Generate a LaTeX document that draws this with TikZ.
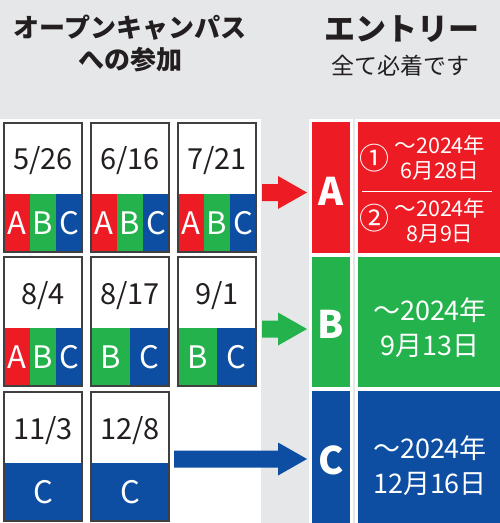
\documentclass[tikz,border=0pt]{standalone}
\usepackage{fontspec}
\setmainfont{Noto Sans CJK JP}
\usetikzlibrary{calc}
\definecolor{cred}{HTML}{ED1C24}
\definecolor{cgreen}{HTML}{23B24B}
\definecolor{cblue}{HTML}{0D4EA2}
\definecolor{cbg}{HTML}{E6E7E9}
\definecolor{ctext}{HTML}{231F20}
\definecolor{cborder}{HTML}{404040}
\newcommand\blkarrow[3]{% color, start coord, tip coord
  \fill[#1] ($(#2)+(0,-8.5)$) -- ($(#3)+(-29,-8.5)$) -- ($(#3)+(-29,-16.5)$) -- (#3)
    -- ($(#3)+(-29,16.5)$) -- ($(#3)+(-29,8.5)$) -- ($(#2)+(0,8.5)$) -- cycle;}
\begin{document}
\begin{tikzpicture}[x=1pt,y=-1pt,
  card/.style={fill=white, minimum width=78pt, minimum height=129pt, inner sep=0pt, outer sep=0pt, anchor=north west},
  cardline/.style={draw=cborder, line width=1.2pt},
  datetext/.style={text=ctext, font=\fontsize{29}{31}\selectfont, inner sep=0pt},
  bandtext/.style={text=white, font=\fontsize{31}{33}\selectfont, inner sep=0pt},
  lbox/.style={draw=white, line width=3pt, minimum width=41pt, inner sep=0pt},
  dbox/.style={draw=white, line width=3pt, minimum width=148pt, inner sep=0pt},
  bigletter/.style={text=white, font=\fontsize{38}{40}\selectfont\bfseries, inner sep=0pt},
  smalldet/.style={text=white, font=\fontsize{21.5}{25}\selectfont, align=center, inner sep=0pt},
  bigdet/.style={text=white, font=\fontsize{27}{35}\selectfont, align=center, inner sep=0pt},
  circnum/.style={text=white, font=\fontsize{30}{32}\selectfont, inner sep=0pt},
  head/.style={text=ctext, font=\fontsize{26}{28}\selectfont\bfseries, inner sep=0pt},
]
\useasboundingbox (0,0) rectangle (500,523);
\fill[cbg] (0,0) rectangle (500,523);
\fill[white] (0,119) rectangle (261,523);

% headers
\node[head] (h1) at (130,28) {オープンキャンパス};
\node[head] (h2) at (130,60) {への参加};
\node[head, font=\fontsize{31}{33}\selectfont\bfseries] (h3) at (402,29) {エントリー};
\node[text=ctext, font=\fontsize{23}{25}\selectfont, inner sep=0pt] (h4) at (400,66) {全て必着です};

% cards
\node[card] (d1) at (4,123) {};
\node[card] (d2) at (91,123) {};
\node[card] (d3) at (178,123) {};
\node[card] (d4) at (4,257) {};
\node[card] (d5) at (91,257) {};
\node[card] (d6) at (178,257) {};
\node[card] (d7) at (4,392) {};
\node[card] (d8) at (91,392) {};

\foreach \c in {d1,d2,d3,d4}{
  \fill[cred] (\c.south west) rectangle ++(26,-58.5);
  \fill[cgreen] ($(\c.south west)+(26,0)$) rectangle ++(26,-58.5);
  \fill[cblue] ($(\c.south west)+(52,0)$) rectangle ++(26,-58.5);
}
\foreach \c in {d5,d6}{
  \fill[cgreen] (\c.south west) rectangle ++(39,-58.5);
  \fill[cblue] ($(\c.south west)+(39,0)$) rectangle ++(39,-58.5);
}
\foreach \c in {d7,d8}{
  \fill[cblue] (\c.south west) rectangle ++(78,-58.5);
}
\foreach \c in {d1,d2,d3,d4,d5,d6,d7,d8}{
  \draw[cardline] (\c.south west) rectangle (\c.north east);
}

% dates
\node[datetext] (t1) at ($(d1.north)+(0,38)$) {5/26};
\node[datetext] (t2) at ($(d2.north)+(0,38)$) {6/16};
\node[datetext] (t3) at ($(d3.north)+(0,38)$) {7/21};
\node[datetext] (t4) at ($(d4.north)+(0,39)$) {8/4};
\node[datetext] (t5) at ($(d5.north)+(0,39)$) {8/17};
\node[datetext] (t6) at ($(d6.north)+(0,39)$) {9/1};
\node[datetext] (t7) at ($(d7.north)+(0,39)$) {11/3};
\node[datetext] (t8) at ($(d8.north)+(0,39)$) {12/8};

% band letters
\foreach \c in {d1,d2,d3,d4}{
  \node[bandtext] (\c a) at ($(\c.south west)+(13,-29)$) {A};
  \node[bandtext] (\c b) at ($(\c.south west)+(39,-29)$) {B};
  \node[bandtext] (\c c) at ($(\c.south west)+(65,-29)$) {C};
}
\foreach \c in {d5,d6}{
  \node[bandtext] (\c b) at ($(\c.south west)+(19.5,-29)$) {B};
  \node[bandtext] (\c c) at ($(\c.south west)+(58.5,-29)$) {C};
}
\foreach \c in {d7,d8}{
  \node[bandtext] (\c c) at ($(\c.south west)+(39,-29)$) {C};
}

% right column boxes
\node[lbox, fill=cred, minimum height=134pt] (A) at (331,187.5) {};
\node[lbox, fill=cgreen, minimum height=133pt] (B) at (331,322) {};
\node[lbox, fill=cblue, minimum height=138pt] (C) at (331,458.5) {};
\node[dbox, fill=cred, minimum height=134pt] (DA) at (430.5,187.5) {};
\node[dbox, fill=cgreen, minimum height=133pt] (DB) at (430.5,322) {};
\node[dbox, fill=cblue, minimum height=138pt] (DC) at (430.5,458.5) {};

\node[bigletter] (Al) at (331,191) {A};
\node[bigletter] (Bl) at (331,324) {B};
\node[bigletter] (Cl) at (331,460) {C};

% details
\node[circnum] (n1) at (374,158) {①};
\node[smalldet] (a1) at (440,157.5) {〜2024年\\6月28日};
\draw[white, line width=1pt] (362,191) -- (492,191);
\node[circnum] (n2) at (374,218) {②};
\node[smalldet] (a2) at (440,220.5) {〜2024年\\8月9日};
\node[bigdet] (b1) at (430,327.5) {〜2024年\\9月13日};
\node[bigdet] (c1) at (430,466) {〜2024年\\12月16日};

% arrows
\coordinate (sA) at (262,192.5);
\coordinate (tA) at ($(sA -| A.west)+(-2,0)$);
\coordinate (sB) at (262,329);
\coordinate (tB) at ($(sB -| B.west)+(-2,0)$);
\coordinate (sC) at (174,459);
\coordinate (tC) at ($(sC -| C.west)+(-2,0)$);
\blkarrow{cred}{sA}{tA}
\blkarrow{cgreen}{sB}{tB}
\blkarrow{cblue}{sC}{tC}
\end{tikzpicture}
\end{document}
